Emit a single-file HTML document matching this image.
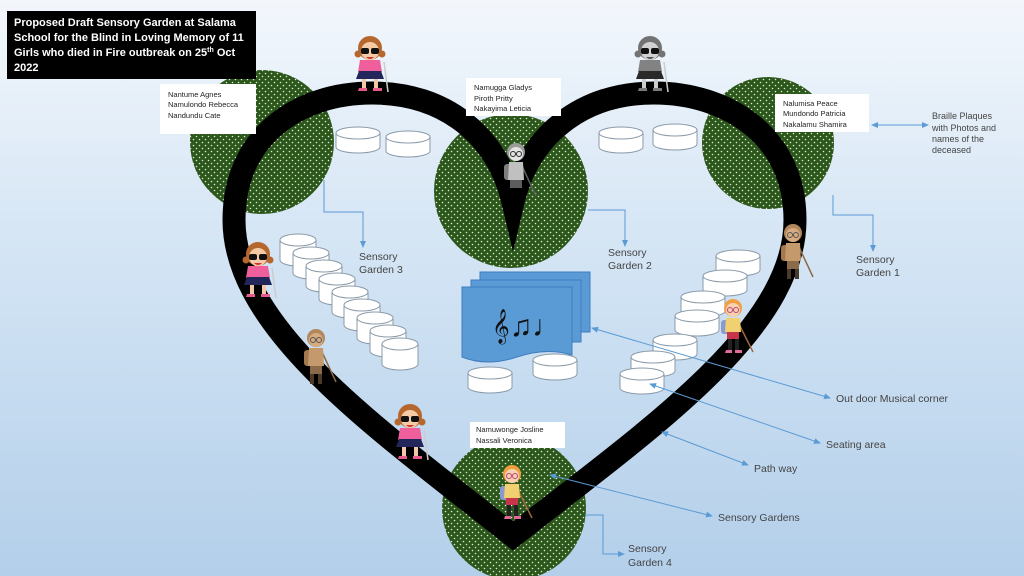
<!DOCTYPE html>
<html><head><meta charset="utf-8"><style>
html,body{margin:0;padding:0;width:1024px;height:576px;overflow:hidden}
svg{display:block}
text{font-family:"Liberation Sans",sans-serif}
</style></head><body>
<svg width="1024" height="576" viewBox="0 0 1024 576" xmlns="http://www.w3.org/2000/svg">
<defs>
<linearGradient id="bg" x1="0" y1="0" x2="0" y2="1">
<stop offset="0" stop-color="#f3f7fc"/><stop offset="0.4" stop-color="#d6e6f5"/><stop offset="1" stop-color="#b3cfea"/>
</linearGradient>
<pattern id="dots" width="6" height="6" patternUnits="userSpaceOnUse">
<rect width="6" height="6" fill="#2b571b"/><circle cx="1.5" cy="1.5" r="0.8" fill="#dfe8d6"/><circle cx="4.5" cy="4.5" r="0.8" fill="#dfe8d6"/>
</pattern>
<g id="cyl">
<path d="M-18,0 v20 a18,6 0 0 0 36,0 v-20" fill="#fff" stroke="#8a9aa8" stroke-width="1"/>
<ellipse cx="0" cy="0" rx="18" ry="6" fill="#fff" stroke="#8a9aa8" stroke-width="1"/>
</g>
<g id="cyls">
<path d="M-22,0 v14 a22,6 0 0 0 44,0 v-14" fill="#fff" stroke="#8a9aa8" stroke-width="1"/>
<ellipse cx="0" cy="0" rx="22" ry="6" fill="#fff" stroke="#8a9aa8" stroke-width="1"/>
</g>
<g id="girl">
<line x1="14" y1="10" x2="18" y2="40" stroke="#ccc" stroke-width="1.5"/>
<path d="M-10,8 h20 l2,12 h-24z" fill="#ee5f9c"/>
<path d="M-11,19 h22 l3,8 h-28z" fill="#23265a"/>
<rect x="-8" y="27" width="4" height="10" fill="#f2c6a8"/><rect x="4" y="27" width="4" height="10" fill="#f2c6a8"/>
<path d="M-11,36 h8 v3 h-9z M3,36 h9 v3 h-9z" fill="#e65a8c"/>
<circle cx="0" cy="-4" r="12" fill="#b5672e"/>
<circle cx="0" cy="-1" r="9" fill="#f5cba6"/>
<circle cx="-12" cy="2" r="3.5" fill="#b5672e"/><circle cx="12" cy="2" r="3.5" fill="#b5672e"/>
<rect x="-9" y="-4" width="8" height="6" rx="2" fill="#111"/><rect x="1" y="-4" width="8" height="6" rx="2" fill="#111"/>
<path d="M-4,5 q4,4 8,0" fill="#c33"/>
</g>
<g id="boy">
<line x1="6" y1="10" x2="20" y2="40" stroke="#8a6a4a" stroke-width="1.5"/>
<rect x="-12" y="8" width="8" height="16" rx="3" fill="#a4784e"/>
<path d="M-7,6 h14 l1,18 h-16z" fill="#c49a6c"/>
<rect x="-6" y="24" width="12" height="8" fill="#8a6a48"/>
<rect x="-6" y="32" width="4" height="10" fill="#4a3a2a"/><rect x="2" y="32" width="4" height="10" fill="#4a3a2a"/>
<circle cx="0" cy="-4" r="9" fill="#b3875c"/><circle cx="0" cy="-2" r="7" fill="#d6ab80"/>
<circle cx="-3" cy="-2" r="2.5" fill="none" stroke="#555"/><circle cx="3" cy="-2" r="2.5" fill="none" stroke="#555"/>
</g>
<g id="blond">
<line x1="6" y1="12" x2="20" y2="40" stroke="#a06a3a" stroke-width="1.5"/>
<rect x="-12" y="8" width="8" height="14" rx="3" fill="#8a9ad0"/>
<path d="M-7,6 h14 l1,14 h-16z" fill="#f0d070"/>
<rect x="-6" y="20" width="12" height="7" fill="#c8344a"/>
<rect x="-5" y="27" width="4" height="12" fill="#222"/><rect x="2" y="27" width="4" height="12" fill="#222"/>
<path d="M-7,38 h6 v3 h-7z M2,38 h7 v3 h-7z" fill="#e06a9a"/>
<circle cx="0" cy="-4" r="9" fill="#f0a040"/><circle cx="0" cy="-2" r="7" fill="#f6d2b0"/>
<circle cx="-3" cy="-2" r="2.5" fill="none" stroke="#c04080"/><circle cx="3" cy="-2" r="2.5" fill="none" stroke="#c04080"/>
</g>
<marker id="ar" markerWidth="8" markerHeight="8" refX="6" refY="4" orient="auto" markerUnits="userSpaceOnUse"><path d="M0,1 L7,4 L0,7z" fill="#5b9bd5"/></marker>
<marker id="al" markerWidth="8" markerHeight="8" refX="1" refY="4" orient="auto" markerUnits="userSpaceOnUse"><path d="M7,1 L0,4 L7,7z" fill="#5b9bd5"/></marker>
</defs>
<rect width="1024" height="576" fill="url(#bg)"/>

<circle cx="262" cy="142" r="72" fill="url(#dots)"/>
<circle cx="511" cy="191" r="77" fill="url(#dots)"/>
<circle cx="768" cy="143" r="66" fill="url(#dots)"/>
<circle cx="514" cy="508" r="72" fill="url(#dots)"/>

<path d="M513,536 C380,430 234,330 234,220 C234,135 300,93 372,93 C445,93 497,135 513,202 C529,135 582,93 654,93 C726,93 795,135 795,220 C795,330 648,430 513,536 Z" fill="none" stroke="#000" stroke-width="23" stroke-linejoin="miter" stroke-miterlimit="10"/>

<use href="#cyls" x="358" y="133"/><use href="#cyls" x="408" y="137"/>
<use href="#cyls" x="621" y="133"/><use href="#cyls" x="675" y="130"/>
<use href="#cyl" x="298" y="240"/><use href="#cyl" x="311" y="253"/><use href="#cyl" x="324" y="266"/>
<use href="#cyl" x="337" y="279"/><use href="#cyl" x="350" y="292"/><use href="#cyl" x="362" y="305"/>
<use href="#cyl" x="375" y="318"/><use href="#cyl" x="388" y="331"/><use href="#cyl" x="400" y="344"/>
<use href="#cyls" x="738" y="256"/><use href="#cyls" x="725" y="276"/><use href="#cyls" x="703" y="297"/>
<use href="#cyls" x="697" y="316"/><use href="#cyls" x="675" y="340"/><use href="#cyls" x="653" y="357"/>
<use href="#cyls" x="642" y="374"/>
<use href="#cyls" x="490" y="373"/><use href="#cyls" x="555" y="360"/>

<rect x="480" y="272" width="110" height="60" fill="#5b9bd5" stroke="#3d7cc0"/>
<rect x="471" y="280" width="110" height="62" fill="#5b9bd5" stroke="#3d7cc0"/>
<path d="M462,287 h110 v68 q-25,-8 -55,2 q-30,10 -55,0z" fill="#5b9bd5" stroke="#3d7cc0"/>
<text x="492" y="336" font-size="30" fill="#111" font-family="DejaVu Sans,sans-serif">𝄞♫♩</text>

<g stroke="#5b9bd5" stroke-width="1" fill="none">
<polyline points="324,180 324,212 363,212 363,247" marker-end="url(#ar)"/>
<polyline points="588,210 625,210 625,246" marker-end="url(#ar)"/>
<polyline points="833,195 833,215 873,215 873,251" marker-end="url(#ar)"/>
<polyline points="585,515 603,515 603,554 624,554" marker-end="url(#ar)"/>
<line x1="872" y1="125" x2="928" y2="125" marker-start="url(#al)" marker-end="url(#ar)"/>
<line x1="592" y1="328" x2="830" y2="398" marker-start="url(#al)" marker-end="url(#ar)"/>
<line x1="650" y1="384" x2="820" y2="443" marker-start="url(#al)" marker-end="url(#ar)"/>
<line x1="662" y1="432" x2="748" y2="465" marker-start="url(#al)" marker-end="url(#ar)"/>
<line x1="550" y1="475" x2="712" y2="516" marker-start="url(#al)" marker-end="url(#ar)"/>
</g>

<use href="#girl" x="370" y="52"/>
<g style="filter:grayscale(1)"><use href="#girl" x="650" y="52"/></g>
<use href="#girl" x="258" y="258"/>
<use href="#boy" x="316" y="342"/>
<use href="#girl" x="410" y="420"/>
<g style="filter:grayscale(1) contrast(2)"><use href="#boy" x="516" y="156"/></g>
<use href="#boy" x="793" y="237"/>
<use href="#blond" x="733" y="312"/>
<use href="#blond" x="512" y="478"/>

<rect x="7" y="11" width="249" height="68" fill="#000"/>
<text font-size="11" font-weight="bold" fill="#fff">
<tspan x="14" y="26">Proposed Draft Sensory Garden at Salama</tspan>
<tspan x="14" y="41">School for the Blind in Loving Memory of 11</tspan>
<tspan x="14" y="56">Girls who died in Fire outbreak on 25<tspan font-size="7" dy="-4">th</tspan><tspan dy="4"> Oct</tspan></tspan>
<tspan x="14" y="71">2022</tspan>
</text>

<g font-size="7.5" fill="#222">
<rect x="160" y="84" width="96" height="50" fill="#fff"/>
<text x="168" y="97">Nantume Agnes</text><text x="168" y="107">Namulondo Rebecca</text><text x="168" y="118">Nandundu Cate</text>
<rect x="466" y="78" width="95" height="38" fill="#fff"/>
<text x="474" y="90">Namugga Gladys</text><text x="474" y="101">Piroth Pritty</text><text x="474" y="111">Nakayima Leticia</text>
<rect x="775" y="94" width="94" height="38" fill="#fff"/>
<text x="783" y="106">Nalumisa Peace</text><text x="783" y="116">Mundondo Patricia</text><text x="783" y="127">Nakalamu Shamira</text>
<rect x="470" y="422" width="95" height="26" fill="#fff"/>
<text x="476" y="432">Namuwonge Josline</text><text x="476" y="443">Nassali Veronica</text>
</g>

<g font-size="10.5" fill="#444">
<text x="359" y="260">Sensory</text><text x="359" y="273">Garden 3</text>
<text x="608" y="256">Sensory</text><text x="608" y="269">Garden 2</text>
<text x="856" y="263">Sensory</text><text x="856" y="276">Garden 1</text>
<text x="628" y="552">Sensory</text><text x="628" y="566">Garden 4</text>
<text x="836" y="402">Out door Musical  corner</text>
<text x="826" y="448">Seating area</text>
<text x="754" y="472">Path way</text>
<text x="718" y="521">Sensory Gardens</text>
</g>
<g font-size="9" fill="#444">
<text x="932" y="119">Braille Plaques</text><text x="932" y="131">with Photos and</text>
<text x="932" y="142">names  of the</text><text x="932" y="153">deceased</text>
</g>
</svg>
</body></html>
